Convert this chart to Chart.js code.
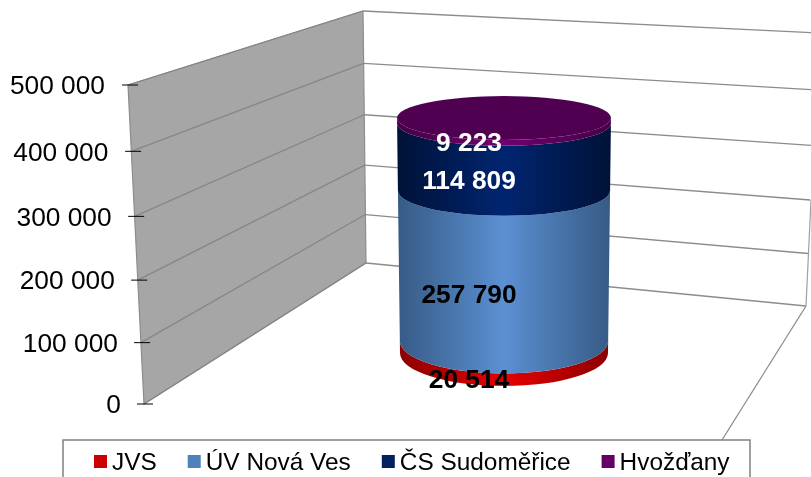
<!DOCTYPE html>
<html>
<head>
<meta charset="utf-8">
<style>
  html, body { margin: 0; padding: 0; background: #fff; overflow: hidden; }
  #wrap { width: 811px; height: 477px; }
</style>
<script src="https://cdn.jsdelivr.net/npm/chart.js@4"></script>
</head>
<body>
<div id="wrap"><canvas id="chart"></canvas></div>
<script>
const categories = ['Voda'];
const seriesNames = ['JVS', 'ÚV Nová Ves', 'ČS Sudoměřice', 'Hvožďany'];
const seriesValues = [20514, 257790, 114809, 9223];
const legendColors = ['#cc0000', '#4f81bd', '#002060', '#660066'];
const sideLight = ['#e60000', '#5b90d2', '#002570', '#700070'];
const sideDark = ['#8a0000', '#365a85', '#001238', '#460046'];
const labelColors = ['#000', '#000', '#fff', '#fff'];
const FONT = "'Liberation Sans', Arial, sans-serif";

const fmt = v => String(v).replace(/\B(?=(\d{3})+$)/g, ' ');

// the 3d axis is a bit compressed towards the bottom
class WallScale extends Chart.LinearScale {
  getPixelForValue(v) {
    const t = v / this.max;
    return this.bottom - (this.bottom - this.top) * (t / (1 + 0.05 * (1 - t)));
  }
}
WallScale.id = 'wall';
WallScale.defaults = Chart.LinearScale.defaults;
Chart.register(WallScale);

function line(ctx, x0, y0, x1, y1, color, w) {
  ctx.strokeStyle = color;
  ctx.lineWidth = w;
  ctx.beginPath();
  ctx.moveTo(x0, y0);
  ctx.lineTo(x1, y1);
  ctx.stroke();
}

const wallsPlugin = {
  id: 'walls',
  beforeDatasetsDraw(chart) {
    const { ctx, scales: { y } } = chart;
    ctx.save();
    ctx.fillStyle = '#a6a6a6';
    ctx.beginPath();
    ctx.moveTo(128, 85);
    ctx.lineTo(363, 11);
    ctx.lineTo(366, 263);
    ctx.lineTo(144, 404);
    ctx.closePath();
    ctx.fill();
    ctx.strokeStyle = '#8c8c8c';
    ctx.lineWidth = 1.2;
    ctx.stroke();

    y.ticks.forEach(t => {
      const f = (y.bottom - y.getPixelForValue(t.value)) / (y.bottom - y.top);
      const lx = 144 - 16 * f, ly = y.getPixelForValue(t.value);
      const mx = 366 - 3 * f, my = 263 - 252 * f;
      line(ctx, lx, ly, mx, my, '#868686', 1.3);
      line(ctx, mx, my, 806 + 11 * f, 306 - 273 * f, '#8c8c8c', 1.3);
      line(ctx, 145 - 15 * f - 8, ly, 145 - 15 * f + 8, ly, '#000', 1);
      ctx.fillStyle = '#000';
      ctx.font = '26.3px ' + FONT;
      ctx.textAlign = 'right';
      ctx.textBaseline = 'middle';
      ctx.fillText(t.label, 121 - 16 * f, ly + 2);
    });
    line(ctx, 806, 306, 811, 200, '#a0a0a0', 1.2);
    line(ctx, 806, 306, 722, 440, '#8c8c8c', 1.3);
    ctx.restore();
  },
  // default rectangles are replaced by the cylinder below
  beforeDatasetDraw() { return false; },
  afterDatasetsDraw(chart) {
    const { ctx, scales: { y2 } } = chart;
    const y0 = y2.getPixelForValue(0);
    const bars = seriesValues.map((_, i) => chart.getDatasetMeta(i).data[0]);
    const rx = (b, py) => b.width / 2 + (y0 - py) * 3 / 235;
    const ry = py => 33 - (y0 - py) * 11 / 235;
    ctx.save();
    bars.forEach((b, i) => {
      const g = ctx.createLinearGradient(b.x - 107, 0, b.x + 107, 0);
      g.addColorStop(0, sideDark[i]);
      g.addColorStop(0.5, sideLight[i]);
      g.addColorStop(1, sideDark[i]);
      ctx.fillStyle = g;
      ctx.beginPath();
      ctx.ellipse(b.x, b.base, rx(b, b.base), ry(b.base), 0, Math.PI, 0, true);
      ctx.ellipse(b.x, b.y, rx(b, b.y), ry(b.y), 0, 0, Math.PI, false);
      ctx.closePath();
      ctx.fill();
    });
    const top = bars[bars.length - 1];
    ctx.fillStyle = '#500050';
    ctx.beginPath();
    ctx.ellipse(top.x, top.y, rx(top, top.y), ry(top.y), 0, 0, Math.PI * 2);
    ctx.fill();

    ctx.font = 'bold 26.3px ' + FONT;
    ctx.textAlign = 'center';
    ctx.textBaseline = 'middle';
    bars.forEach((b, i) => {
      const mid = (b.y + b.base) / 2;
      ctx.fillStyle = labelColors[i];
      ctx.fillText(fmt(seriesValues[i]), b.x - 35, mid + ry(mid) + 1);
    });

    // legend box runs off the bottom of the picture like the original
    ctx.strokeStyle = '#808080';
    ctx.lineWidth = 1.5;
    ctx.strokeRect(63, 440, 687, 60);
    ctx.font = '24.4px ' + FONT;
    ctx.textAlign = 'left';
    let x = 94;
    seriesNames.forEach((name, i) => {
      ctx.fillStyle = legendColors[i];
      ctx.fillRect(x, 455, 13, 13);
      ctx.fillStyle = '#000';
      ctx.fillText(name, x + 18, 463);
      x += 18 + ctx.measureText(name).width + 31;
    });
    ctx.restore();
  }
};

new Chart(document.getElementById('chart'), {
  type: 'bar',
  data: {
    labels: categories,
    datasets: seriesNames.map((name, i) => ({
      label: name,
      data: [seriesValues[i]],
      backgroundColor: legendColors[i],
      yAxisID: 'y2',
      barThickness: 208
    }))
  },
  options: {
    responsive: true,
    maintainAspectRatio: false,
    animation: false,
    layout: { padding: { top: 85, bottom: 73, left: 197 } },
    plugins: { legend: { display: false }, tooltip: { enabled: false } },
    scales: {
      x: { display: false, stacked: true },
      y: { type: 'wall', display: false, min: 0, max: 500000, ticks: { stepSize: 100000, callback: fmt } },
      y2: { display: false, stacked: true, min: -87329, max: 458904 }
    }
  },
  plugins: [wallsPlugin]
});
</script>
</body>
</html>
